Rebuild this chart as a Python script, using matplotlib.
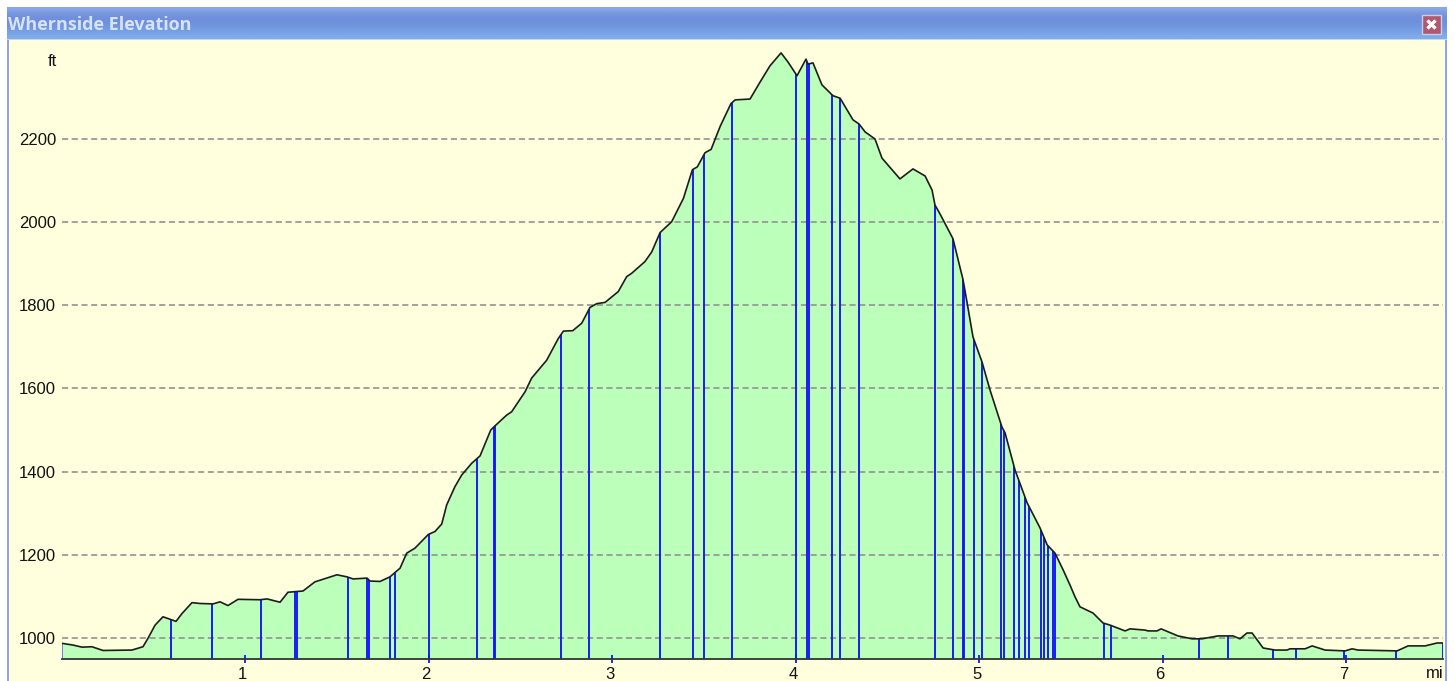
import matplotlib
matplotlib.use("Agg")
import matplotlib.pyplot as plt
from matplotlib.patches import Rectangle
from matplotlib.transforms import ScaledTranslation
import numpy as np

plt.rcParams['font.family'] = ['Liberation Sans', 'DejaVu Sans']
plt.rcParams['lines.scale_dashes'] = False

TITLE = "Whernside Elevation"
distance_mi = [0.005,0.063,0.112,0.166,0.226,0.384,0.444,0.471,0.510,0.553,0.591,0.624,0.657,0.711,0.755,
    0.826,0.864,0.907,0.962,1.082,1.120,1.191,1.234,1.316,1.381,1.501,1.556,1.589,1.665,1.681,1.736,1.790,
    1.845,1.881,1.926,1.999,2.035,2.072,2.099,2.144,2.181,2.235,2.281,2.339,2.362,2.426,2.453,2.526,2.562,
    2.644,2.707,2.735,2.786,2.835,2.880,2.917,2.962,3.034,3.080,3.107,3.179,3.216,3.262,3.325,3.389,3.438,
    3.465,3.507,3.540,3.589,3.648,3.671,3.752,3.807,3.861,3.921,3.959,4.008,4.057,4.068,4.095,4.144,
    4.204,4.243,4.313,4.346,4.379,4.433,4.471,4.569,4.640,4.706,4.744,4.760,4.787,4.858,4.913,4.935,4.967,
    5.016,5.060,5.125,5.142,5.196,5.262,5.332,5.371,5.414,5.458,5.496,5.523,5.550,5.621,5.676,5.714,5.796,
    5.823,5.905,5.921,5.970,5.992,6.084,6.161,6.215,6.302,6.384,6.422,6.460,6.488,6.548,6.613,6.678,6.695,
    6.777,6.815,6.886,6.995,7.033,7.065,7.278,7.338,7.431,7.496,7.529]
elevation_ft = [987,983,978,979,970,971,979,999,1031,1051,1045,1040,1059,1085,1083,
    1082,1087,1078,1093,1092,1094,1086,1110,1113,1135,1152,1147,1142,1144,1137,1136,1147,
    1168,1204,1216,1249,1256,1274,1320,1364,1392,1420,1438,1500,1510,1536,1544,1592,1625,
    1668,1720,1738,1739,1757,1795,1804,1807,1833,1869,1877,1905,1928,1975,2001,2057,2126,
    2133,2167,2175,2230,2285,2294,2296,2337,2376,2407,2385,2352,2392,2380,2383,2330,
    2304,2298,2246,2236,2217,2200,2154,2104,2128,2111,2077,2041,2020,1960,1861,1806,1724,
    1664,1596,1507,1493,1404,1325,1265,1224,1204,1164,1127,1099,1075,1060,1036,1031,1017,
    1022,1019,1017,1017,1022,1005,998,998,1005,1005,998,1012,1012,976,971,971,974,
    974,981,971,969,974,971,969,981,981,988,988]
waypoints_mi = [0.005,0.595,0.822,1.086,1.271,1.282,1.561,1.667,1.676,1.790,1.817,2.000,2.264,2.355,2.362,
    2.722,2.872,3.264,3.440,3.501,3.652,4.005,4.061,4.072,4.197,4.241,4.346,4.760,4.857,4.911,4.920,4.971,
    5.015,5.120,5.138,5.191,5.218,5.252,5.271,5.340,5.356,5.376,5.405,5.413,5.683,5.719,6.201,6.359,6.604,
    6.728,6.991,7.272,7.529]
x_ticks = [1, 2, 3, 4, 5, 6, 7]
y_ticks = [1000, 1200, 1400, 1600, 1800, 2000, 2200]
title_band = ['#8ba6e6', '#7b99e0', '#7190dc', '#6f8fdc', '#7094de', '#739be2', '#79a3e6', '#7fade9']

W, H = 1455, 681
fig = plt.figure(figsize=(W/100, H/100), dpi=100, facecolor='white')

bg = fig.add_axes([0, 0, 1, 1], zorder=0)
bg.set_axis_off()
rgb = np.array([matplotlib.colors.to_rgb(c) for c in title_band])[:, None, :]
bg.imshow(rgb, extent=(7, 1447, 39, 7), aspect='auto', interpolation='bilinear', zorder=1)
bg.add_patch(Rectangle((7, 39), 1440, 642, fc='#8fa3e6', ec='none', zorder=1))
bg.add_patch(Rectangle((9, 40), 1436, 641, fc='#ffffdd', ec='none', zorder=2))
bg.add_patch(Rectangle((7, 38.5), 1440, 1.5, fc='#c9d6f4', ec='none', zorder=2))
bg.add_patch(Rectangle((1422, 15), 19, 19, fc='#b0586f', ec='#c4cfee', lw=1, zorder=3))
bg.plot([1427.5, 1435.5], [20.5, 28.5], color='white', lw=2.4, zorder=4, solid_capstyle='butt')
bg.plot([1427.5, 1435.5], [28.5, 20.5], color='white', lw=2.4, zorder=4, solid_capstyle='butt')
bg.text(8, 24.5, TITLE, color='#d6e2f8', fontsize=13, fontweight='bold', family='Open Sans', va='center', ha='left', zorder=4)
bg.text(52.5, 61, 'ft', color='#111111', fontsize=12, va='center', ha='center', zorder=4)
bg.text(1435, 673, 'mi', color='#111111', fontsize=12, va='center', ha='center', zorder=4)
bg.set_xlim(0, W)
bg.set_ylim(H, 0)

ax = fig.add_axes([61.5/W, (H-659)/H, 1382/W, 619/H], zorder=1)
ax.patch.set_alpha(0)
ax.set_xlim(0, 7.531)
ax.set_ylim(949.5, 2438)

poly = ax.fill_between(distance_mi, elevation_ft, 949.5, color='#bbffbb', lw=0, zorder=1)
for v in y_ticks:
    ax.axhline(v, color='#8e8e8e', lw=1.15, ls=(0, (4.4, 2.6)), zorder=2)
way = ax.vlines(waypoints_mi, 949.5, 2438, color='#1414ff', lw=1.35, zorder=3)
way.set_clip_path(poly.get_paths()[0], ax.transData)
ax.plot(distance_mi, elevation_ft, color='#1c1c1c', lw=1.2, zorder=4)

for s in ['top', 'left', 'right']:
    ax.spines[s].set_visible(False)
ax.spines['bottom'].set_color('#333333')
ax.spines['bottom'].set_linewidth(1.3)
ax.spines['bottom'].set_zorder(5)

ax.set_xticks(x_ticks)
ax.set_yticks(y_ticks)
ax.tick_params(axis='y', length=0, pad=4, labelsize=12, labelcolor='#111111')
ax.tick_params(axis='x', length=5.5, width=1.3, color='#1414ff', direction='inout', pad=3, labelsize=12, labelcolor='#111111')
shift = ScaledTranslation(-2.5/100, 0, fig.dpi_scale_trans)
for lab in ax.get_xticklabels():
    lab.set_transform(lab.get_transform() + shift)

fig.savefig('out.png', dpi=100, facecolor='white')
